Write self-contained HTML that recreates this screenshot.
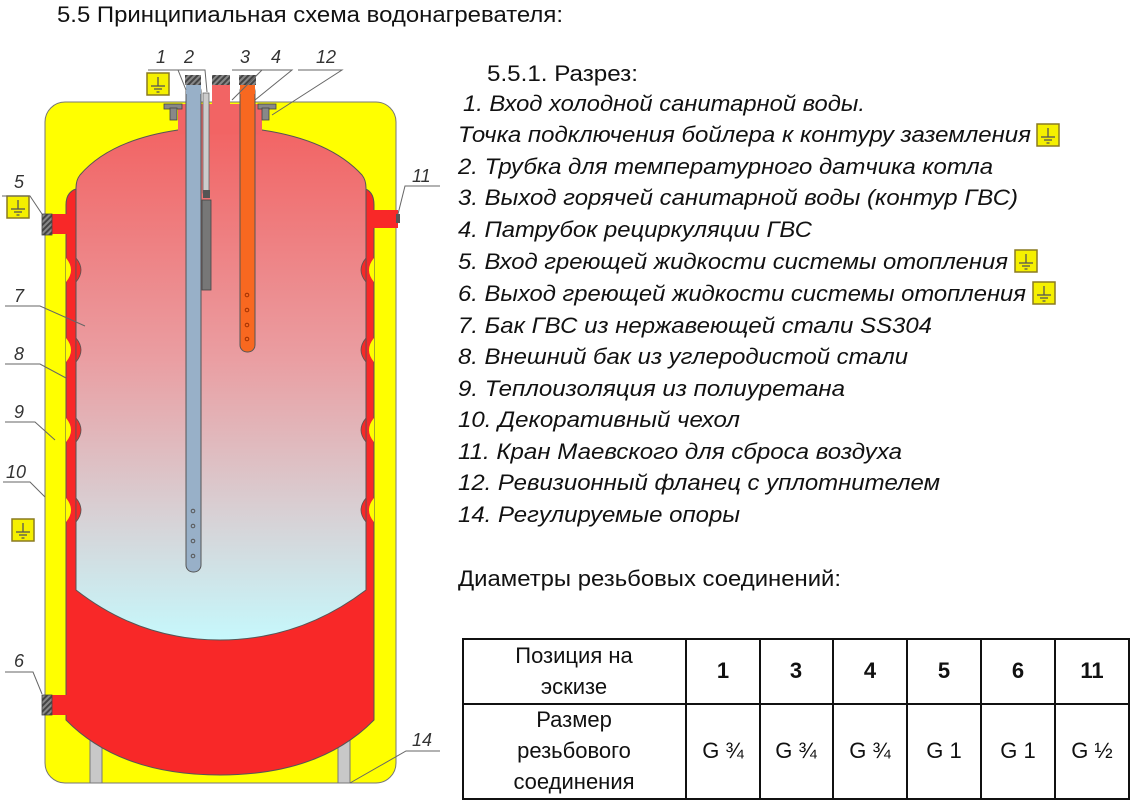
<!DOCTYPE html>
<html><head><meta charset="utf-8"><style>
html,body{margin:0;padding:0;background:#fff;width:1132px;height:802px;overflow:hidden}
svg{display:block}
.t{font-family:"Liberation Sans","Noto Sans CJK SC",sans-serif;font-size:22px;fill:#111}
.i{font-style:italic}
.n{font-family:"Liberation Sans",sans-serif;font-style:italic;font-size:18px;fill:#333}
.ld{stroke:#666;stroke-width:1;fill:none}
</style></head><body>
<svg width="1132" height="802" viewBox="0 0 1132 802" xmlns="http://www.w3.org/2000/svg">
<defs>
<linearGradient id="g" x1="0" y1="0" x2="0" y2="1">
<stop offset="0" stop-color="#f26464"/>
<stop offset="0.45" stop-color="#ea9ea2"/>
<stop offset="0.75" stop-color="#d8d0d4"/>
<stop offset="1" stop-color="#c6f8fc"/>
</linearGradient>
<pattern id="h" width="4" height="4" patternUnits="userSpaceOnUse" patternTransform="rotate(45)">
<rect width="4" height="4" fill="#888"/><rect width="2" height="4" fill="#444"/>
</pattern>
<g id="gr"><rect x="0" y="0" width="22" height="22" fill="#f5f000" stroke="#8a7a20" stroke-width="1.5"/>
<line x1="11" y1="4" x2="11" y2="13" stroke="#555" stroke-width="1.3"/>
<line x1="4" y1="13" x2="18" y2="13" stroke="#555" stroke-width="1.3"/>
<line x1="7" y1="16" x2="15" y2="16" stroke="#555" stroke-width="1.3"/>
<line x1="9.5" y1="19" x2="12.5" y2="19" stroke="#555" stroke-width="1.3"/></g>
</defs>

<text x="57" y="22" class="t" textLength="506" lengthAdjust="spacingAndGlyphs">5.5 Принципиальная схема водонагревателя:</text>

<rect x="45" y="102" width="351" height="681" rx="20" fill="#ffff00" stroke="#777" stroke-width="1"/>
<rect x="90" y="740" width="12" height="43" fill="#c8c8c8" stroke="#777"/>
<rect x="338" y="740" width="12" height="43" fill="#c8c8c8" stroke="#777"/>
<path d="M66,205 Q66,190 80,188 L362,188 Q374,190 374,205 L374,720 Q320,775 220,775 Q120,775 66,720 Z" fill="#f82828" stroke="#555" stroke-width="1"/>
<rect x="50" y="214" width="18" height="20" fill="#f82828"/>
<rect x="42" y="214" width="10" height="21" fill="url(#h)" stroke="#444" stroke-width="0.8"/>
<rect x="50" y="695" width="18" height="20" fill="#f82828"/>
<rect x="42" y="695" width="10" height="20" fill="url(#h)" stroke="#444" stroke-width="0.8"/>
<rect x="372" y="210" width="26" height="18" fill="#f82828"/>
<rect x="396" y="214" width="4" height="9" fill="#555"/>
<path d="M178,130 Q110,140 80,175 Q76,180 76,188 L76,590 Q140,640 220,640 Q300,640 366,590 L366,188 Q366,180 362,175 Q330,140 262,130 Z" fill="url(#g)" stroke="#555" stroke-width="1"/>
<g fill="#f82828" stroke="#555" stroke-width="0.8">
<path d="M76,258 Q86,270 76,282 Z"/><path d="M76,338 Q86,350 76,362 Z"/><path d="M76,418 Q86,430 76,442 Z"/><path d="M76,498 Q86,510 76,522 Z"/>
<path d="M366,258 Q356,270 366,282 Z"/><path d="M366,338 Q356,350 366,362 Z"/><path d="M366,418 Q356,430 366,442 Z"/><path d="M366,498 Q356,510 366,522 Z"/>
</g>
<g fill="#ffff00">
<path d="M66,258 Q76,270 66,282 Z"/><path d="M66,338 Q76,350 66,362 Z"/><path d="M66,418 Q76,430 66,442 Z"/><path d="M66,498 Q76,510 66,522 Z"/>
<path d="M374,258 Q364,270 374,282 Z"/><path d="M374,338 Q364,350 374,362 Z"/><path d="M374,418 Q364,430 374,442 Z"/><path d="M374,498 Q364,510 374,522 Z"/>
</g>
<rect x="178" y="104" width="84" height="30" fill="#f26464"/>
<rect x="212" y="84" width="18" height="25" fill="#f26464"/>
<g fill="#888" stroke="#444" stroke-width="0.8">
<rect x="164" y="104" width="18" height="5"/><rect x="170" y="108" width="7" height="12"/>
<rect x="258" y="104" width="18" height="5"/><rect x="262" y="108" width="7" height="12"/>
</g>
<rect x="186" y="84" width="15" height="488" rx="7" fill="#98b0c8" stroke="#555" stroke-width="1"/>
<rect x="186" y="84" width="15" height="10" fill="#98b0c8"/>
<rect x="240" y="84" width="15" height="268" rx="7" fill="#f86820" stroke="#555" stroke-width="1"/>
<rect x="240" y="84" width="15" height="10" fill="#f86820"/>
<rect x="203" y="93" width="6" height="100" fill="#ccc" stroke="#666" stroke-width="0.8"/>
<rect x="202" y="200" width="9" height="90" fill="#777" stroke="#444" stroke-width="0.8"/>
<rect x="203" y="190" width="7" height="8" fill="#555"/>
<g fill="none" stroke="#555" stroke-width="1">
<circle cx="193" cy="511" r="1.8"/><circle cx="193" cy="526" r="1.8"/><circle cx="193" cy="541" r="1.8"/><circle cx="193" cy="556" r="1.8"/>
</g>
<g fill="none" stroke="#a03000" stroke-width="1">
<circle cx="247" cy="295" r="1.8"/><circle cx="247" cy="310" r="1.8"/><circle cx="247" cy="325" r="1.8"/><circle cx="247" cy="339" r="1.8"/>
</g>
<rect x="185" y="75" width="16" height="10" fill="url(#h)"/>
<rect x="212" y="75" width="18" height="10" fill="url(#h)"/>
<rect x="239" y="75" width="17" height="10" fill="url(#h)"/>

<use href="#gr" x="147" y="73"/>
<use href="#gr" x="7" y="196"/>
<use href="#gr" x="12" y="519"/>

<g class="n">
<text x="156" y="63">1</text><text x="184" y="63">2</text><text x="240" y="63">3</text><text x="271" y="63">4</text><text x="316" y="63">12</text>
<text x="14" y="188">5</text><text x="14" y="302">7</text><text x="14" y="360">8</text><text x="14" y="418">9</text><text x="6" y="478">10</text><text x="14" y="667">6</text>
<text x="412" y="182">11</text><text x="412" y="746">14</text>
</g>
<g class="ld">
<polyline points="148,70 178,70 186,90"/>
<polyline points="178,70 205,70 207,92"/>
<polyline points="232,70 262,70 232,100"/>
<polyline points="262,70 292,70 255,100"/>
<polyline points="298,70 342,70 272,115"/>
<polyline points="2,196 30,196 42,214"/>
<polyline points="5,306 40,306 85,326"/>
<polyline points="5,364 40,364 66,378"/>
<polyline points="5,422 35,422 55,440"/>
<polyline points="3,482 30,482 45,497"/>
<polyline points="5,672 33,672 42,694"/>
<polyline points="440,186 405,186 398,214"/>
<polyline points="440,751 406,751 350,783"/>
</g>

<g class="t">
<text x="487" y="81" textLength="151" lengthAdjust="spacingAndGlyphs">5.5.1. Разрез:</text>
<g class="i">
<text x="463" y="111" textLength="402" lengthAdjust="spacingAndGlyphs">1. Вход холодной санитарной воды.</text>
<text x="458" y="142" textLength="573" lengthAdjust="spacingAndGlyphs">Точка подключения бойлера к контуру заземления</text>
<text x="458" y="174" textLength="535" lengthAdjust="spacingAndGlyphs">2. Трубка для температурного датчика котла</text>
<text x="458" y="205" textLength="560" lengthAdjust="spacingAndGlyphs">3. Выход горячей санитарной воды (контур ГВС)</text>
<text x="458" y="237" textLength="354" lengthAdjust="spacingAndGlyphs">4. Патрубок рециркуляции ГВС</text>
<text x="458" y="269" textLength="550" lengthAdjust="spacingAndGlyphs">5. Вход греющей жидкости системы отопления</text>
<text x="458" y="301" textLength="568" lengthAdjust="spacingAndGlyphs">6. Выход греющей жидкости системы отопления</text>
<text x="458" y="333" textLength="474" lengthAdjust="spacingAndGlyphs">7. Бак ГВС из нержавеющей стали SS304</text>
<text x="458" y="364" textLength="450" lengthAdjust="spacingAndGlyphs">8. Внешний бак из углеродистой стали</text>
<text x="458" y="396" textLength="387" lengthAdjust="spacingAndGlyphs">9. Теплоизоляция из полиуретана</text>
<text x="458" y="427" textLength="282" lengthAdjust="spacingAndGlyphs">10. Декоративный чехол</text>
<text x="458" y="459" textLength="444" lengthAdjust="spacingAndGlyphs">11. Кран Маевского для сброса воздуха</text>
<text x="458" y="490" textLength="482" lengthAdjust="spacingAndGlyphs">12. Ревизионный фланец с уплотнителем</text>
<text x="458" y="522" textLength="282" lengthAdjust="spacingAndGlyphs">14. Регулируемые опоры</text>
</g>
<text x="458" y="586" textLength="383" lengthAdjust="spacingAndGlyphs">Диаметры резьбовых соединений:</text>
</g>
<use href="#gr" x="1037" y="124"/>
<use href="#gr" x="1015" y="250"/>
<use href="#gr" x="1033" y="282"/>

<g stroke="#111" stroke-width="2" fill="none">
<rect x="463" y="639" width="666" height="160"/>
<line x1="463" y1="704" x2="1129" y2="704"/>
<line x1="686" y1="639" x2="686" y2="799"/>
<line x1="760" y1="639" x2="760" y2="799"/>
<line x1="833" y1="639" x2="833" y2="799"/>
<line x1="907" y1="639" x2="907" y2="799"/>
<line x1="981" y1="639" x2="981" y2="799"/>
<line x1="1055" y1="639" x2="1055" y2="799"/>
</g>
<g class="t" text-anchor="middle" font-size="21">
<text x="574" y="663">Позиция на</text>
<text x="574" y="694">эскизе</text>
<text x="574" y="727">Размер</text>
<text x="574" y="758">резьбового</text>
<text x="574" y="789">соединения</text>
<g font-weight="bold">
<text x="723" y="678">1</text><text x="796" y="678">3</text><text x="870" y="678">4</text><text x="944" y="678">5</text><text x="1018" y="678">6</text><text x="1092" y="678">11</text>
</g>
<text x="723" y="758">G ¾</text><text x="796" y="758">G ¾</text><text x="870" y="758">G ¾</text><text x="944" y="758">G 1</text><text x="1018" y="758">G 1</text><text x="1092" y="758">G ½</text>
</g>
</svg>
</body></html>
